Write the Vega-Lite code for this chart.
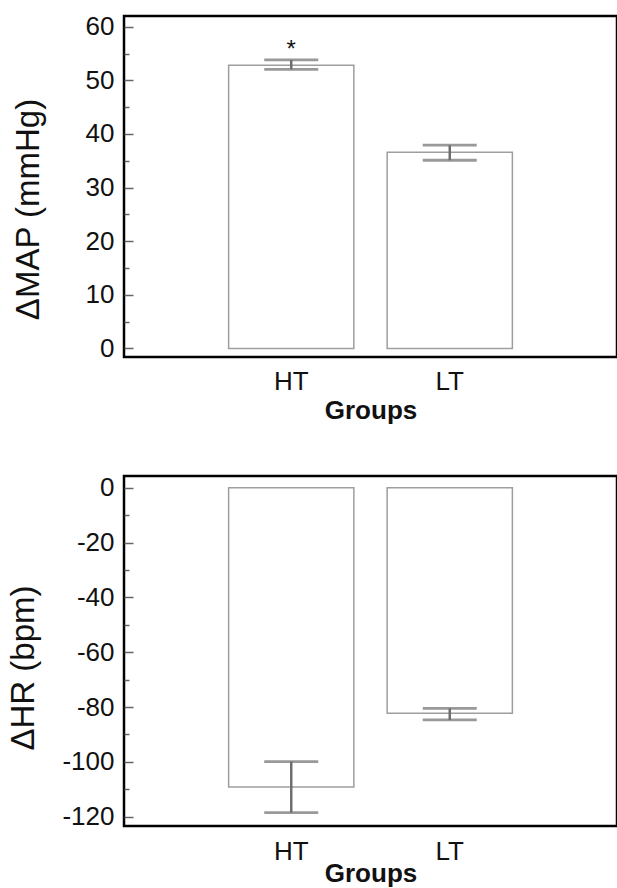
{
  "$schema": "https://vega.github.io/schema/vega-lite/v6.json",
  "autosize": {"type": "pad"},
  "padding": {"left": 5, "top": 12, "right": 0, "bottom": 0},
  "background": "white",
  "bounds": "flush",
  "spacing": 119,
  "config": {
    "font": "Liberation Sans",
    "view": {"stroke": "black", "strokeWidth": 2.5},
    "axis": {"grid": false, "labelFont": "Liberation Sans", "titleFont": "Liberation Sans", "labelColor": "#111", "titleColor": "#111"}
  },
  "vconcat": [
    {
      "width": 493,
      "height": 341,
      "data": {"values": [
        {"group": "HT", "mean": 52.8, "lo": 52.05, "hi": 53.8, "sig": "*"},
        {"group": "LT", "mean": 36.6, "lo": 35.1, "hi": 37.9, "sig": ""}
      ]},
      "encoding": {
        "x": {"field": "group", "type": "nominal",
          "scale": {"paddingInner": 0.21, "paddingOuter": 0.66},
          "axis": {"ticks": false, "domain": false, "labelAngle": 0, "labelFontSize": 26, "labelPadding": 11,
                   "title": "Groups", "titleFontSize": 26, "titleFontWeight": "bold", "titleBaseline": "alphabetic", "titleY": 61}}
      },
      "layer": [
        {
          "mark": {"type": "bar", "fill": "white", "stroke": "#9e9e9e", "strokeWidth": 1.5},
          "encoding": {
            "y": {"field": "mean", "type": "quantitative",
              "scale": {"domain": [-1.6, 62], "nice": false, "zero": false},
              "axis": {"orient": "left", "values": [0, 10, 20, 30, 40, 50, 60], "tickSize": -9, "tickWidth": 1.5, "tickColor": "#666",
                       "labelFontSize": 26, "labelPadding": 19, "domain": false,
                       "title": "ΔMAP (mmHg)", "titleFontSize": 33, "titleFontWeight": "normal",
                       "titleX": -86, "titleY": 193, "titleBaseline": "alphabetic"}}
          }
        },
        {
          "mark": {"type": "rule", "color": "#6e6e6e", "strokeWidth": 2.5},
          "encoding": {
            "y": {"field": "lo", "type": "quantitative",
              "axis": {"orient": "left", "values": [5, 15, 25, 35, 45, 55], "tickSize": -5, "tickWidth": 1.5, "tickColor": "#666",
                       "labels": false, "domain": false, "title": null}},
            "y2": {"field": "hi"}
          }
        },
        {
          "mark": {"type": "tick", "orient": "horizontal", "size": 54, "thickness": 2.8, "color": "#6e6e6e"},
          "encoding": {"y": {"field": "hi", "type": "quantitative", "axis": null}}
        },
        {
          "mark": {"type": "tick", "orient": "horizontal", "size": 54, "thickness": 2.8, "color": "#6e6e6e"},
          "encoding": {"y": {"field": "lo", "type": "quantitative", "axis": null}}
        },
        {
          "mark": {"type": "text", "dy": -3, "baseline": "alphabetic", "fontSize": 24, "color": "#111"},
          "encoding": {"y": {"field": "hi", "type": "quantitative", "axis": null}, "text": {"field": "sig"}}
        }
      ],
      "resolve": {"axis": {"y": "independent"}}
    },
    {
      "width": 493,
      "height": 350,
      "data": {"values": [
        {"group": "HT", "mean": -109.2, "lo": -118.5, "hi": -99.9},
        {"group": "LT", "mean": -82.3, "lo": -84.7, "hi": -80.5}
      ]},
      "encoding": {
        "x": {"field": "group", "type": "nominal",
          "scale": {"paddingInner": 0.21, "paddingOuter": 0.66},
          "axis": {"ticks": false, "domain": false, "labelAngle": 0, "labelFontSize": 26, "labelPadding": 12,
                   "title": "Groups", "titleFontSize": 26, "titleFontWeight": "bold", "titleBaseline": "alphabetic", "titleY": 55}}
      },
      "layer": [
        {
          "mark": {"type": "bar", "fill": "white", "stroke": "#9e9e9e", "strokeWidth": 1.5},
          "encoding": {
            "y": {"field": "mean", "type": "quantitative",
              "scale": {"domain": [-123.4, 4.3], "nice": false, "zero": false},
              "axis": {"orient": "left", "values": [-120, -100, -80, -60, -40, -20, 0], "labelExpr": "datum.value + ''",
                       "tickSize": -9, "tickWidth": 1.5, "tickColor": "#666",
                       "labelFontSize": 26, "labelPadding": 19, "domain": false,
                       "title": "ΔHR (bpm)", "titleFontSize": 33, "titleFontWeight": "normal",
                       "titleX": -91, "titleY": 191.5, "titleBaseline": "alphabetic"}}
          }
        },
        {
          "mark": {"type": "rule", "color": "#6e6e6e", "strokeWidth": 2.5},
          "encoding": {
            "y": {"field": "lo", "type": "quantitative",
              "axis": {"orient": "left", "values": [-110, -90, -70, -50, -30, -10], "tickSize": -5, "tickWidth": 1.5, "tickColor": "#666",
                       "labels": false, "domain": false, "title": null}},
            "y2": {"field": "hi"}
          }
        },
        {
          "mark": {"type": "tick", "orient": "horizontal", "size": 54, "thickness": 2.8, "color": "#6e6e6e"},
          "encoding": {"y": {"field": "hi", "type": "quantitative", "axis": null}}
        },
        {
          "mark": {"type": "tick", "orient": "horizontal", "size": 54, "thickness": 2.8, "color": "#6e6e6e"},
          "encoding": {"y": {"field": "lo", "type": "quantitative", "axis": null}}
        }
      ],
      "resolve": {"axis": {"y": "independent"}}
    }
  ]
}
